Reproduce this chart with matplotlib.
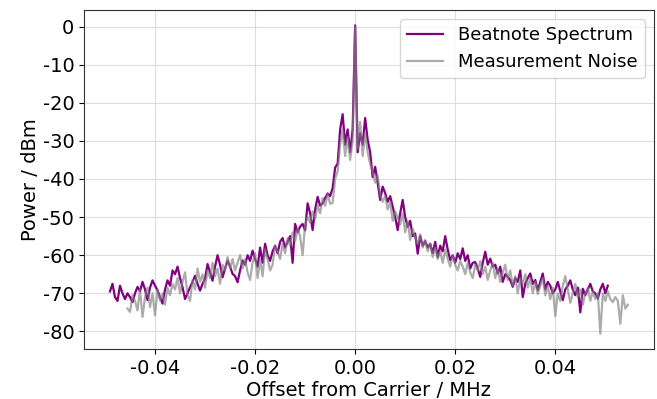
import matplotlib
matplotlib.use("Agg")
import matplotlib.pyplot as plt
from matplotlib.ticker import MultipleLocator
import numpy as np

# frequency grid of the analyser (MHz offset from carrier)
freq_step = 0.0005
beat_start = -0.049
noise_start = -0.0455

# Beatnote spectrum, dBm
beat_power = [
    -69.5, -67.5, -71, -72, -68, -70, -71.5, -70, -71, -72.3, -70, -68.3, -69.5, -67, -69, -71.8, -68.5, -66.6, -68, -69.2,
    -71, -72.7, -69, -66.6, -68, -64, -65, -63, -66, -68.4, -71.5, -70, -68.4, -67, -65.4, -67.5, -69.3, -67.5, -66.2, -62.3,
    -64.5, -66.7, -63, -60, -62.5, -65.8, -63.5, -61.4, -63, -64.9, -65.5, -67.1, -64, -61.4, -62.5, -60, -61.5, -58.8, -61, -63,
    -58, -62, -57, -60, -61.5, -59, -57.5, -59.5, -56.5, -55.5, -58, -56.5, -55, -62, -51.8, -54, -52.5, -51.8, -53.5, -46.4,
    -49, -53.4, -48, -44.7, -47, -46.4, -45, -43.8, -44.5, -42.4, -37, -36, -27, -23, -31, -27, -33, -27, 0.3, -33,
    -28, -31, -24, -29.7, -33, -39.5, -36.8, -41, -45.5, -42, -43.7, -46, -44.5, -47.3, -50, -53.4, -49, -45.5, -50, -52.6,
    -51, -55, -54.3, -59.6, -55, -57.5, -56.3, -58, -57, -59.5, -56.5, -60.5, -57.5, -59, -55, -58.5, -61.3, -60, -62, -59.5,
    -61, -58.2, -61.5, -60, -63.5, -62, -61.8, -63.5, -65.7, -62, -59.1, -62.5, -60.9, -63, -62.5, -64.8, -63, -67, -65, -65.7,
    -66.5, -68.3, -66, -67, -64, -71, -67.5, -66, -64.8, -67.5, -66.5, -69.2, -67, -64.8, -69, -67, -68, -70, -69, -67,
    -69.5, -71.8, -69, -68, -66.6, -69, -70.5, -68.5, -75, -68.8, -70.5, -69, -67.5, -69.5, -70, -71.4, -69, -67.5, -70, -68,
]

# Measurement noise, dBm
noise_power = [
    -74, -74.9, -70.5, -72, -74.5, -69, -76.2, -71, -68.5, -73.6, -70, -75.8, -69, -72, -70, -73, -68.5, -70.5, -67.5, -69,
    -66, -70, -67, -64.5, -70.5, -72, -66.5, -69, -63.5, -67, -65, -68.5, -64, -66, -62, -65.5, -63.5, -67.5, -62.5, -64,
    -60.5, -63.5, -61, -64, -62, -60, -63.5, -61, -64.5, -66.5, -62, -59.5, -66, -61, -65.5, -58.5, -61, -64, -62.5, -57.5,
    -59, -61, -57, -59.5, -55.5, -57.5, -54, -56.5, -53, -55, -60, -52, -50, -51.5, -48.5, -50.5, -47, -49, -45, -47,
    -44, -46.5, -46.3, -40, -38, -31, -27, -34, -29, -35, -30, 0, -32, -25, -34, -28, -33, -36, -38, -41,
    -39, -44, -46, -44.5, -48, -46, -51, -48.5, -50, -52, -49, -54, -51, -56, -53, -55.5, -57, -54.5, -58, -56,
    -59, -57, -60.5, -58, -61, -59, -62, -58.5, -61, -63, -60, -62.5, -64, -61.5, -63, -65, -62, -64.5, -66, -62.5,
    -64, -61.5, -65, -63, -66.5, -64, -62, -66, -63.5, -67, -64.5, -62.5, -66.5, -64, -68, -65.5, -70, -66, -67.5, -65,
    -68.5, -66, -70, -67, -70.2, -68, -66, -70.5, -68, -71.5, -68.5, -76, -70, -72, -68, -65.5, -69, -72.5, -70, -67.5,
    -71, -69, -73, -70, -68.5, -72, -69.5, -71.5, -70, -80.6, -70, -72, -69.5, -71.5, -72.3, -71, -72, -78, -70.5, -74, -73,
]

beat_freq = beat_start + freq_step * np.arange(len(beat_power))
noise_freq = noise_start + freq_step * np.arange(len(noise_power))

plt.rcParams["font.size"] = 14
plt.rcParams["axes.unicode_minus"] = False

fig, ax = plt.subplots(figsize=(6.57, 3.99), dpi=100)
fig.subplots_adjust(left=0.128, right=0.995, top=0.975, bottom=0.125)

ax.plot(beat_freq, beat_power, color="purple", lw=1.6, label="Beatnote Spectrum")
ax.plot(noise_freq, noise_power, color="gray", alpha=0.65, lw=1.6, label="Measurement Noise")

ax.yaxis.set_major_locator(MultipleLocator(10))
ax.grid(color="#dddddd", lw=0.8)
for s in ax.spines.values():
    s.set_color("#333333")
ax.set_xlabel("Offset from Carrier / MHz", labelpad=2)
ax.set_ylabel("Power / dBm", labelpad=2)
ax.legend(loc="upper right", fontsize=13)

fig.savefig("out.png")
